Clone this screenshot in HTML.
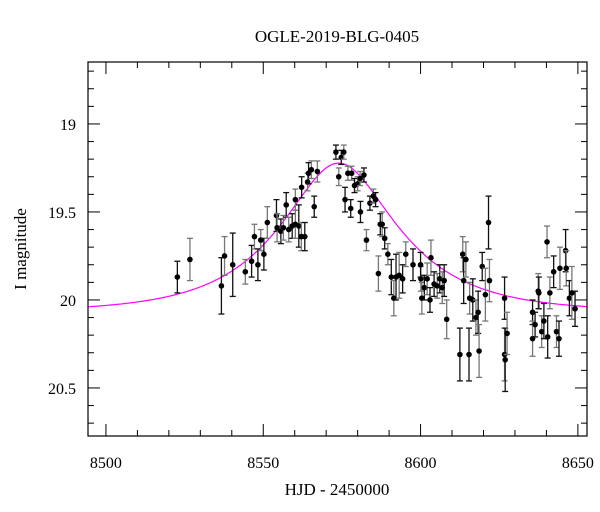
<!DOCTYPE html>
<html><head><meta charset="utf-8"><style>
body{margin:0;background:#fff}
svg{display:block;font-family:"Liberation Serif",serif}
</style></head><body>
<svg id="c" width="600" height="512"></svg>
<script>
const days=[8522.7,8526.7,8536.7,8537.7,8540.3,8544.3,8546.3,8547.2,8548.3,8549.2,8550.2,8551.3,8554.2,8554.4,8555.6,8556.4,8557.3,8558.1,8559.2,8560.2,8561.3,8562.1,8563.2,8560.2,8562.2,8564.1,8564.4,8565.3,8566.2,8567.2,8573.1,8574.0,8574.8,8575.6,8576.0,8576.9,8577.8,8578.1,8579.0,8580.0,8580.9,8580.8,8582.0,8582.8,8583.9,8585.0,8585.7,8586.6,8587.2,8587.8,8588.6,8589.6,8590.7,8591.5,8592.2,8593.2,8594.3,8595.3,8597.6,8600.1,8600.0,8600.4,8601.2,8602.1,8603.0,8603.3,8604.3,8605.3,8606.1,8606.9,8607.5,8608.3,8612.5,8613.4,8613.7,8614.4,8615.4,8615.6,8616.6,8617.6,8618.3,8618.6,8619.6,8620.6,8621.6,8621.9,8626.7,8626.7,8626.9,8627.5,8635.6,8635.6,8636.4,8637.4,8637.6,8638.5,8639.2,8640.2,8640.4,8641.1,8642.3,8643.2,8644.0,8644.3,8646.1,8646.3,8647.3,8648.1,8649.1];
const mags=[19.87,19.77,19.92,19.75,19.80,19.84,19.78,19.64,19.80,19.66,19.74,19.56,19.52,19.59,19.61,19.59,19.46,19.60,19.58,19.57,19.58,19.64,19.64,19.43,19.36,19.33,19.28,19.26,19.47,19.27,19.16,19.30,19.19,19.16,19.43,19.28,19.48,19.28,19.35,19.34,19.50,19.31,19.29,19.66,19.45,19.41,19.43,19.85,19.57,19.57,19.65,19.74,19.87,19.99,19.87,19.86,19.88,19.74,19.80,19.88,19.80,19.99,19.93,19.88,20.00,19.76,19.91,19.92,19.88,19.93,19.89,20.11,20.31,19.74,19.89,19.77,20.31,19.99,20.00,20.10,20.07,20.29,19.81,19.97,19.56,19.89,19.99,20.31,20.34,20.19,20.07,20.22,20.14,19.95,19.96,20.18,20.12,19.67,20.21,19.96,19.84,20.18,20.22,19.82,19.72,19.82,19.99,19.96,20.05];
const errs=[0.09,0.12,0.16,0.11,0.18,0.07,0.09,0.07,0.09,0.06,0.09,0.09,0.09,0.08,0.07,0.07,0.07,0.07,0.07,0.08,0.12,0.08,0.08,0.06,0.06,0.05,0.06,0.05,0.06,0.06,0.04,0.05,0.04,0.04,0.07,0.04,0.05,0.04,0.04,0.04,0.06,0.04,0.04,0.06,0.04,0.04,0.04,0.10,0.06,0.07,0.06,0.06,0.10,0.10,0.13,0.13,0.08,0.07,0.09,0.07,0.07,0.09,0.07,0.09,0.07,0.10,0.07,0.07,0.08,0.09,0.09,0.11,0.15,0.10,0.13,0.10,0.15,0.09,0.12,0.10,0.12,0.15,0.08,0.15,0.15,0.12,0.12,0.15,0.18,0.12,0.07,0.10,0.07,0.10,0.09,0.09,0.10,0.09,0.12,0.09,0.09,0.09,0.10,0.12,0.12,0.10,0.10,0.15,0.10];
const xTicks=[8500,8550,8600,8650];
const yTicks=[19,19.5,20,20.5];
const model={t0:8574,u0:0.5,tE:32,base:20.07};
const L=88,R=587,T=62,B=436,X0=8494.3,X1=8652.9,Y0=18.648,Y1=20.773;
const sx=d=>L+(d-X0)/(X1-X0)*(R-L), sy=m=>T+(m-Y0)/(Y1-Y0)*(B-T);
const svg=document.getElementById('c');const NS='http://www.w3.org/2000/svg';
function mk(tag,a,p){const e=document.createElementNS(NS,tag);for(const k in a)e.setAttribute(k,a[k]);(p||svg).appendChild(e);return e;}
const cp=mk('clipPath',{id:'cp'});mk('rect',{x:L,y:T,width:R-L,height:B-T},cp);
// ticks
const tg=mk('g',{stroke:'#000','stroke-width':1});
for(let v=8500;v<=8650;v+=10){const x=sx(v),len=(v%50===0)?12:6;
 let e=mk('line',{x1:x,x2:x,y1:B,y2:B-len},tg);
 e=mk('line',{x1:x,x2:x,y1:T,y2:T+len},tg);}
for(let i=0;i<=21;i++){const v=18.7+i*0.1;const y=sy(v);if(y<T||y>B)continue;const maj=Math.abs(v*2-Math.round(v*2))<1e-6;const len=maj?12:6;
 let e=mk('line',{x1:L,x2:L+len,y1:y,y2:y},tg);
 e=mk('line',{x1:R,x2:R-len,y1:y,y2:y},tg);}
xTicks.forEach(v=>{const t=mk('text',{x:sx(v),y:468,'text-anchor':'middle','font-size':16});t.textContent=v;
 });
yTicks.forEach(v=>{const t=mk('text',{x:76,y:sy(v)+6,'text-anchor':'end','font-size':16});t.textContent=String(v);
 });
// model
let d='';for(let t=X0;t<=X1;t+=0.5){const u=Math.hypot(model.u0,(t-model.t0)/model.tE);const A=(u*u+2)/(u*Math.sqrt(u*u+4));
 const m=model.base-2.5*Math.log10(A);d+=(d?'L':'M')+sx(t).toFixed(1)+','+sy(m).toFixed(1);}
const ml=mk('path',{d:d,fill:'none',stroke:'#ff00ff','stroke-width':1.2,'clip-path':'url(#cp)'});

// points
days.forEach((t,i)=>{const x=sx(t),y=sy(mags[i]),y1=sy(mags[i]-errs[i]),y2=sy(mags[i]+errs[i]);
 const g=mk('g',{stroke:i%2?'#777':'#111','stroke-width':1.3});
 
 mk('line',{x1:x,x2:x,y1:y1,y2:y2},g);mk('line',{x1:x-3,x2:x+3,y1:y1,y2:y1},g);mk('line',{x1:x-3,x2:x+3,y1:y2,y2:y2},g);
 mk('circle',{cx:x,cy:y,r:2.8,fill:'#000',stroke:'none'},g);});
const fr=mk('rect',{x:L,y:T,width:R-L,height:B-T,fill:'none',stroke:'#000','stroke-width':1.2});

let t=mk('text',{x:337,y:42,'text-anchor':'middle','font-size':17});t.textContent='OGLE-2019-BLG-0405';

t=mk('text',{x:337,y:495,'text-anchor':'middle','font-size':17});t.textContent='HJD - 2450000';

t=mk('text',{x:0,y:0,'text-anchor':'middle','font-size':17,transform:'translate(26,249) rotate(-90)'});t.textContent='I magnitude';

</script>
</body></html>
